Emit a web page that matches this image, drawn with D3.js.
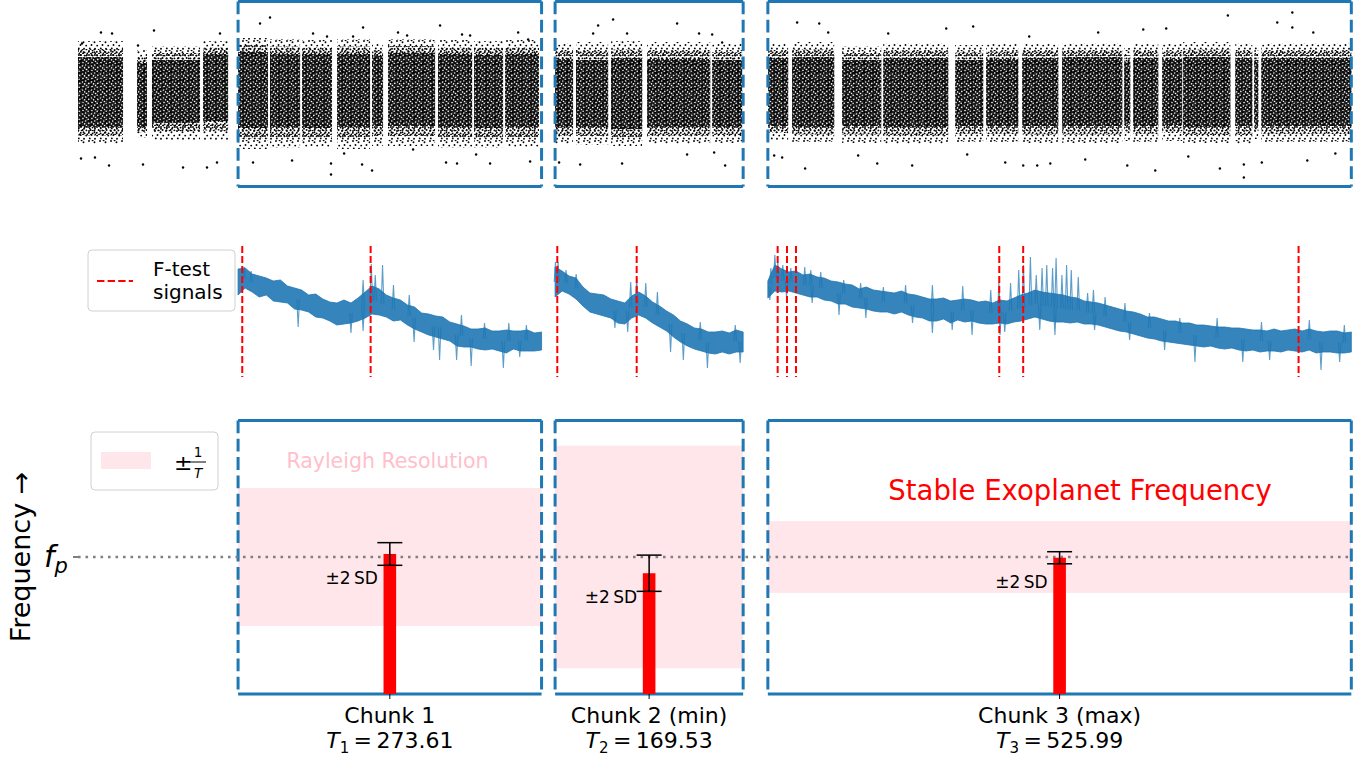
<!DOCTYPE html>
<html>
<head>
<meta charset="utf-8">
<script src="https://cdn.jsdelivr.net/npm/d3@7"></script>
<style>
  body { margin: 0; background: #fff; }
  svg { display: block; }
  text { font-family: "DejaVu Sans", sans-serif; }
</style>
</head>
<body>
<svg id="chart" width="1369" height="757"></svg>
<script>
// ---------------- data ----------------
// Observation chunks (days since first observation) and their baselines T
const chunkNames = ["Chunk 1", "Chunk 2 (min)", "Chunk 3 (max)"];
const chunkSub = ["1", "2", "3"];
const chunkStart = [144.3, 430.1, 621.9];
const chunkLength = [273.61, 169.53, 525.99];
const timeSpan = 1148.5;

// Light curve: contiguous data segments [t0, t1, outerHi, innerHi, innerLo, outerLo] (flux, ppt)
const lcSegments = [
  [0, 40.6, 5.3, 3.7, -3.3, -5.0],
  [53.2, 62.2, 4.4, 3.1, -3.3, -4.4],
  [66.7, 110.0, 4.8, 3.4, -2.9, -4.6],
  [112.7, 135.3, 5.3, 4.0, -2.7, -4.6],
  [144.3, 171.3, 5.6, 4.2, -3.4, -5.5],
  [173.1, 200.2, 5.5, 4.0, -3.3, -5.4],
  [202.0, 229.0, 5.4, 4.0, -3.4, -5.3],
  [233.5, 263.3, 5.5, 4.0, -3.3, -5.5],
  [265.1, 275.0, 5.0, 3.8, -3.2, -5.2],
  [279.5, 321.9, 5.5, 4.1, -3.2, -5.2],
  [324.6, 355.3, 5.4, 4.0, -3.3, -5.4],
  [357.1, 383.2, 5.3, 3.9, -3.4, -5.4],
  [385.0, 415.6, 5.4, 4.0, -3.3, -5.3],
  [430.1, 446.3, 5.1, 3.5, -3.3, -5.0],
  [449.0, 477.9, 5.2, 3.4, -3.3, -5.1],
  [480.6, 508.6, 5.3, 3.6, -3.5, -5.2],
  [513.1, 569.9, 5.2, 3.5, -3.3, -5.0],
  [571.7, 598.7, 5.0, 3.4, -3.3, -4.9],
  [622.2, 640.2, 5.0, 3.6, -3.2, -4.6],
  [643.8, 681.7, 5.2, 3.7, -3.3, -4.8],
  [688.9, 724.1, 4.8, 3.4, -3.2, -4.9],
  [725.9, 784.5, 5.1, 3.6, -3.3, -5.0],
  [790.8, 816.0, 4.9, 3.4, -3.2, -4.8],
  [818.7, 847.6, 5.0, 3.5, -3.2, -4.8],
  [851.2, 883.7, 5.0, 3.6, -3.2, -4.9],
  [887.3, 941.4, 5.1, 3.7, -3.2, -4.9],
  [943.2, 948.6, 4.6, 3.2, -3.0, -4.7],
  [951.3, 973.8, 5.0, 3.6, -3.2, -4.8],
  [977.4, 995.4, 5.0, 3.5, -3.1, -4.7],
  [996.3, 1038.8, 5.2, 3.7, -3.3, -4.9],
  [1043.3, 1058.6, 5.1, 3.6, -3.2, -5.0],
  [1060.4, 1064.0, 4.8, 3.4, -3.0, -4.5],
  [1066.7, 1147.9, 5.1, 3.6, -3.2, -4.8]
];

// Light curve outliers [t, flux]
const lcOutliers = [
  [20.7, 6.15], [30.7, 6.05], [28.0, -7.15], [2.7, -6.45], [15.3, -6.35], [68.5, 6.35],
  [58.6, -7.05], [94.7, -7.35], [116.3, -7.35], [125.3, -6.85], [128.0, 6.05], [173.1, 7.65],
  [164.1, 7.05], [157.8, -6.85], [193.0, -6.65], [3.6, 5.05], [54.1, 4.85], [211.9, 6.05],
  [224.5, 5.75], [228.1, -8.05], [228.1, -6.95], [257.0, 6.65], [265.1, -7.65], [256.1, -7.05],
  [288.5, 6.15], [296.7, 5.85], [326.4, 6.85], [346.2, 5.95], [353.5, 5.85], [331.8, -6.85],
  [341.7, -6.95], [358.9, -6.05], [371.5, -6.95], [396.8, 6.15], [405.8, 5.45], [407.6, -6.75],
  [248.0, 5.75], [239.9, -5.95], [302.1, -5.55], [482.4, 7.45], [468.9, 6.85], [464.4, 6.05],
  [495.0, 6.05], [452.7, -7.05], [433.7, -6.85], [490.5, -6.95], [540.1, 7.05], [559.9, 6.05],
  [571.7, 5.95], [583.4, -7.15], [549.1, -6.05], [573.5, -5.85], [580.7, 5.15], [648.3, 7.15],
  [668.2, 7.05], [655.5, -7.45], [676.3, 6.15], [703.3, -6.15], [720.5, -6.95], [730.4, 6.05],
  [752.0, -7.15], [782.7, 6.55], [807.0, 6.75], [801.6, -6.05], [835.9, -6.85], [857.5, 5.75],
  [852.1, -7.15], [864.7, -7.15], [876.5, -6.95], [627.6, -6.15], [634.8, -6.35], [1036.6, 7.85],
  [1094.7, 8.15], [1094.7, 6.65], [1081.1, 7.15], [1051.0, -8.35], [1029.4, -7.45], [1051.0, -7.05],
  [945.9, -7.15], [971.1, -7.65], [908.0, -6.55], [919.7, 6.15], [960.3, 6.45], [981.0, 6.55],
  [1113.6, 6.15], [1133.5, -5.95], [1108.2, -6.65], [1000.9, -6.25], [1067.2, -6.85]
];

// Periodograms: log power envelope [lo, hi] on an even grid over 0 - 0.5 c/d
const pgram1 = [
  [8.2,10.8],[8.9,10.9],[8.5,10.3],[8.0,10.1],[8.2,9.9],[7.6,9.6],[7.5,9.7],[7.4,9.1],[6.8,8.9],[6.7,8.7],
  [6.5,8.2],[6.0,8.3],[5.9,7.8],[5.6,7.5],[5.2,7.4],[5.3,7.7],[5.4,7.4],[5.6,7.9],[5.9,8.5],[6.3,9.1],
  [6.2,8.8],[6.0,8.2],[5.6,7.9],[5.7,7.7],[5.2,7.2],[4.8,7.0],[4.5,6.4],[4.2,6.3],[4.0,6.1],[3.8,6.0],
  [3.6,5.5],[3.1,5.3],[3.0,5.1],[3.0,4.8],[2.8,4.8],[2.7,4.9],[2.8,4.6],[2.6,4.6],[2.4,4.7],[2.8,4.6],
  [2.6,4.6],[2.6,4.7],[2.6,4.4],[2.7,4.5]
];
const pgram2 = [
  [8.0,11.0],[8.6,10.6],[8.3,10.1],[7.8,9.9],[7.1,9.0],[6.5,8.4],[6.3,8.3],[6.1,8.2],[5.9,7.8],[5.4,7.6],
  [5.3,7.4],[5.9,8.1],[6.2,8.5],[5.9,8.1],[5.4,7.5],[5.0,7.1],[4.6,6.6],[4.0,6.2],[3.5,5.6],[3.1,5.3],
  [2.8,4.9],[2.6,4.8],[2.4,4.5],[2.3,4.5],[2.5,4.6],[2.3,4.4],[2.5,4.7],[2.5,4.5]
];
const pgram3 = [
  [7.9,9.6],[8.6,11.2],[8.5,10.8],[8.6,10.5],[8.4,10.6],[8.2,10.2],[8.0,10.3],[8.0,10.0],[7.7,9.9],[7.6,9.6],
  [7.3,9.5],[7.3,9.3],[7.0,9.2],[6.9,8.8],[6.8,9.0],[6.6,8.7],[6.5,8.6],[6.5,8.5],[6.3,8.4],[6.5,8.6],
  [6.2,8.3],[6.0,8.2],[5.9,8.0],[5.6,7.8],[5.6,7.8],[5.8,7.9],[5.4,7.6],[5.7,7.7],[5.5,7.8],[5.6,7.7],
  [5.4,7.5],[5.3,7.6],[5.3,7.4],[5.4,7.7],[5.3,7.6],[5.5,7.9],[5.6,8.2],[5.8,8.4],[6.0,8.7],[5.8,8.5],
  [5.6,8.4],[5.5,8.3],[5.5,8.2],[5.4,8.0],[5.5,7.9],[5.3,7.6],[5.3,7.5],[5.2,7.4],[5.0,7.2],[4.8,7.0],
  [4.6,6.8],[4.5,6.6],[4.3,6.5],[4.1,6.3],[3.9,6.0],[3.8,6.0],[3.6,5.8],[3.5,5.6],[3.4,5.6],[3.3,5.4],
  [3.2,5.4],[3.1,5.2],[3.0,5.2],[3.1,5.1],[2.9,5.0],[2.8,5.0],[2.9,4.9],[2.7,4.9],[2.6,4.8],[2.7,4.7],
  [2.5,4.7],[2.6,4.6],[2.6,4.8],[2.5,4.6],[2.7,4.7],[2.6,4.8],[2.5,4.6],[2.7,4.8],[2.4,4.6],[2.5,4.5],
  [2.5,4.6],[2.4,4.6],[2.4,4.4],[2.5,4.5]
];

// Isolated periodogram excursions [frequency (c/d), log power]
const spikes1 = [
  [0.0099,11.0],[0.0215,10.6],[0.099,5.0],[0.186,4.4],[0.206,4.6],[0.206,9.7],[0.2195,11.3],[0.226,10.2],
  [0.238,11.2],[0.256,9.2],[0.282,8.2],[0.290,3.5],[0.322,2.7],[0.332,1.7],[0.360,1.7],[0.368,6.2],
  [0.384,1.1],[0.406,5.4],[0.437,0.9],[0.446,5.4],[0.475,5.2],[0.464,2.0]
];
const spikes2 = [
  [0.001,11.5],[0.008,11.5],[0.029,10.7],[0.056,10.3],[0.201,9.5],[0.217,9.9],[0.241,9.4],[0.193,4.5],
  [0.159,4.9],[0.307,2.5],[0.341,1.7],[0.405,0.9],[0.492,1.4],[0.386,5.5],[0.479,5.2],[0.272,8.5]
];
const spikes3 = [
  [0.0026,10.9],[0.006,12.2],[0.0085,11.5],[0.0128,11.2],[0.0197,10.9],[0.0316,11.0],[0.0368,10.7],
  [0.0453,10.5],[0.065,9.7],[0.0795,9.4],[0.099,9.0],[0.118,9.2],[0.141,9.2],[0.167,9.1],[0.191,8.7],
  [0.198,9.5],[0.208,9.4],[0.215,10.7],[0.219,11.2],[0.225,12.0],[0.230,10.2],[0.235,10.9],[0.239,11.2],
  [0.244,10.9],[0.247,11.9],[0.252,10.2],[0.256,11.2],[0.260,10.7],[0.266,10.0],[0.274,8.4],[0.279,8.7],
  [0.289,8.0],[0.306,7.4],[0.327,6.4],[0.353,5.9],[0.385,5.9],[0.423,5.5],[0.464,5.7],[0.494,5.2],
  [0.0017,7.7],[0.016,8.0],[0.038,7.4],[0.061,6.2],[0.084,5.9],[0.124,5.4],[0.141,4.4],[0.175,4.2],
  [0.158,4.7],[0.199,4.2],[0.203,4.5],[0.233,4.7],[0.246,4.2],[0.280,4.7],[0.310,3.7],[0.366,1.5],
  [0.340,2.7],[0.407,1.5],[0.430,1.7],[0.474,0.7],[0.490,1.5]
];

// F-test detections (c/d)
const ftest1 = [0.0069, 0.2184];
const ftest2 = [0.0058, 0.2169];
const ftest3 = [0.0084, 0.0164, 0.0241, 0.1983, 0.2188, 0.4548];

// Planet frequency and per-chunk estimates (c/d)
const fP = 0.218;
const fEst = [0.21816, 0.21714, 0.21796];
const f2SD = [0.00060, 0.00096, 0.00032];

// ---------------- drawing ----------------
const svg = d3.select("#chart");
const BLUE = "#1f77b4";

const x = d3.scaleLinear().domain([0, timeSpan]).range([78, 1352]);
const yLC = d3.scaleLinear().domain([-9.3, 9.3]).range([187, 1]);
const yPow = d3.scaleLinear().domain([0, 13.1]).range([377, 246]);
const yF = d3.scaleLinear().domain([fP - 0.00726, fP + 0.00726]).range([694, 420]);

// dot textures for the dense light-curve cloud (light, medium, heavy)
const defs = svg.append("defs");
function dotPattern(id, w, h, pts, r, bg) {
  const p = defs.append("pattern").attr("id", id)
    .attr("patternUnits", "userSpaceOnUse").attr("width", w).attr("height", h);
  if (bg) p.append("rect").attr("width", w).attr("height", h).attr("fill", "#000");
  pts.forEach(q => p.append("circle").attr("cx", q[0]).attr("cy", q[1]).attr("r", r)
    .attr("fill", bg ? "#fff" : "#000"));
}
dotPattern("sparse", 11, 10, [[1,1],[6.5,2.2],[3.5,5],[9.2,5.6],[1.8,8.4],[7,8.8],[4.6,0.3]], 0.95, false);
dotPattern("medium", 8, 9, [[1,1],[4.6,1.6],[2.6,4],[6.4,4.4],[0.8,6.8],[4.6,7.4],[7.4,8.4],[3,8.6],[6.9,1]], 0.95, false);
dotPattern("dense", 9, 8, [[1.5,2],[5.5,5.5],[4.7,1],[2,6.5],[7.8,3.4],[7.2,7.2],[3.6,3.9]], 0.8, true);

function chunkBox(g, i, y0, y1) {
  const x0 = x(chunkStart[i]), x1 = x(chunkStart[i] + chunkLength[i]);
  const box = g.append("g").attr("stroke", BLUE).attr("stroke-width", 3).attr("fill", "none");
  box.append("line").attr("x1", x0).attr("x2", x1).attr("y1", y0).attr("y2", y0);
  box.append("line").attr("x1", x0).attr("x2", x1).attr("y1", y1).attr("y2", y1);
  [x0, x1].forEach(xx => box.append("line").attr("x1", xx).attr("x2", xx)
    .attr("y1", y0).attr("y2", y1).attr("stroke-dasharray", "12.8 5.5"));
}

// ---- top: light curve ----
const gTop = svg.append("g");
function band(cls, top, bot, fill, op) {
  gTop.selectAll("rect." + cls).data(lcSegments).join("rect").attr("class", cls)
    .attr("x", d => x(d[0])).attr("width", d => x(d[1]) - x(d[0]))
    .attr("y", d => yLC(top(d))).attr("height", d => yLC(bot(d)) - yLC(top(d)))
    .attr("fill", fill).attr("opacity", op);
}
band("outer", d => d[2], d => d[5], "url(#sparse)", 1);
band("mid", d => (d[2] + d[3]) / 2, d => (d[4] + d[5]) / 2, "url(#medium)", 1);
band("inner", d => d[3], d => d[4], "url(#dense)", 0.86);
gTop.selectAll("circle").data(lcOutliers).join("circle")
  .attr("cx", d => x(d[0])).attr("cy", d => yLC(d[1])).attr("r", 1.2).attr("fill", "#000");
[0, 1, 2].forEach(i => chunkBox(gTop, i, 1.5, 186.5));

// ---- middle: periodograms ----
const gMid = svg.append("g");
const pgrams = [pgram1, pgram2, pgram3];
const spikes = [spikes1, spikes2, spikes3];
const ftests = [ftest1, ftest2, ftest3];
pgrams.forEach((pg, k) => {
  const xf = d3.scaleLinear().domain([0, 0.5])
    .range([x(chunkStart[k]), x(chunkStart[k] + chunkLength[k])]);
  const step = 0.5 / (pg.length - 1);
  const area = d3.area()
    .x((d, i) => xf(i * step)).y0(d => yPow(d[0])).y1(d => yPow(d[1]));
  gMid.append("path").datum(pg).attr("d", area).attr("fill", BLUE).attr("fill-opacity", 0.9)
    .attr("stroke", BLUE).attr("stroke-width", 0.8);
  const mid = f => {
    const p = Math.min(f / step, pg.length - 1.0001), i0 = Math.floor(p), t = p - i0;
    const a = (pg[i0][0] + pg[i0][1]) / 2, b = (pg[i0 + 1][0] + pg[i0 + 1][1]) / 2;
    return a + (b - a) * t;
  };
  spikes[k].forEach(s => {
    const xs = xf(s[0]), ym = yPow(mid(s[0]));
    gMid.append("path")
      .attr("d", d3.line()([[xs - 1.3, ym], [xs, yPow(s[1])], [xs + 1.3, ym]]))
      .attr("fill", "none").attr("stroke", BLUE).attr("stroke-width", 1.1)
      .attr("stroke-opacity", 0.72);
  });
  ftests[k].forEach(f => {
    gMid.append("line").attr("x1", xf(f)).attr("x2", xf(f)).attr("y1", 246).attr("y2", 377)
      .attr("stroke", "red").attr("stroke-width", 2).attr("stroke-dasharray", "7 3");
  });
});
// legend
const lg1 = svg.append("g");
lg1.append("rect").attr("x", 88).attr("y", 250).attr("width", 147).attr("height", 61)
  .attr("rx", 4).attr("fill", "#fff").attr("fill-opacity", 0.8).attr("stroke", "#d0d0d0");
lg1.append("line").attr("x1", 97).attr("x2", 133).attr("y1", 281).attr("y2", 281)
  .attr("stroke", "red").attr("stroke-width", 2).attr("stroke-dasharray", "7.4 3.2");
lg1.append("text").attr("x", 153).attr("y", 276).attr("font-size", 20).text("F-test");
lg1.append("text").attr("x", 153).attr("y", 299).attr("font-size", 20).text("signals");

// ---- bottom: frequency estimates ----
const gBot = svg.append("g");
const centers = chunkStart.map((s, i) => s + chunkLength[i] / 2);
chunkLength.forEach((T, i) => {
  gBot.append("rect").attr("x", x(chunkStart[i])).attr("width", x(chunkStart[i] + T) - x(chunkStart[i]))
    .attr("y", yF(fP + 1 / T)).attr("height", yF(fP - 1 / T) - yF(fP + 1 / T))
    .attr("fill", "pink").attr("fill-opacity", 0.4);
});
[0, 1, 2].forEach(i => chunkBox(gBot, i, 420.5, 694));
gBot.append("line").attr("x1", 78).attr("x2", 1352).attr("y1", yF(fP)).attr("y2", yF(fP))
  .attr("stroke", "#808080").attr("stroke-width", 2.6).attr("stroke-dasharray", "2.6 4.9");
fEst.forEach((f, i) => {
  const cx = x(centers[i]);
  gBot.append("rect").attr("x", cx - 6.3).attr("width", 12.6)
    .attr("y", yF(f)).attr("height", 694 - yF(f)).attr("fill", "#ff0000");
  const eb = gBot.append("g").attr("stroke", "#000").attr("stroke-width", 1.5);
  eb.append("line").attr("x1", cx).attr("x2", cx).attr("y1", yF(f + f2SD[i])).attr("y2", yF(f - f2SD[i]));
  [f + f2SD[i], f - f2SD[i]].forEach(v => eb.append("line")
    .attr("x1", cx - 12.5).attr("x2", cx + 12.5).attr("y1", yF(v)).attr("y2", yF(v)));
  gBot.append("text").attr("x", cx - 12).attr("y", yF(f) + 30).attr("text-anchor", "end")
    .attr("font-size", 17).text("\u00b12\u2009SD");
  // x tick and label
  gBot.append("line").attr("x1", cx).attr("x2", cx).attr("y1", 694).attr("y2", 699)
    .attr("stroke", "#000").attr("stroke-width", 1);
  gBot.append("text").attr("x", cx).attr("y", 723).attr("text-anchor", "middle")
    .attr("font-size", 22).text(chunkNames[i]);
  const t = gBot.append("text").attr("x", cx).attr("y", 748).attr("text-anchor", "middle")
    .attr("font-size", 22);
  t.append("tspan").attr("font-style", "italic").text("T");
  t.append("tspan").attr("font-size", 15).attr("dy", 5).text(chunkSub[i]);
  t.append("tspan").attr("dy", -5).text("\u2009=\u2009" + chunkLength[i].toFixed(2));
});
// y tick f_p
gBot.append("line").attr("x1", 73).attr("x2", 78).attr("y1", yF(fP)).attr("y2", yF(fP))
  .attr("stroke", "#000").attr("stroke-width", 1);
const fpl = gBot.append("text").attr("x", 44).attr("y", yF(fP) + 10).attr("font-size", 30);
fpl.append("tspan").attr("font-style", "italic").text("f");
fpl.append("tspan").attr("font-style", "italic").attr("font-size", 21).attr("dy", 6).text("p");
svg.append("text").attr("transform", `translate(30,${yF(fP)}) rotate(-90)`)
  .attr("text-anchor", "middle").attr("font-size", 27).text("Frequency \u2192");

gBot.append("text").attr("x", 387.5).attr("y", 468).attr("text-anchor", "middle")
  .attr("font-size", 20.5).attr("fill", "pink").text("Rayleigh Resolution");
gBot.append("text").attr("x", 1080).attr("y", 500).attr("text-anchor", "middle")
  .attr("font-size", 27.5).attr("fill", "#ff0000").text("Stable Exoplanet Frequency");

// legend for the resolution band
const lg2 = svg.append("g");
lg2.append("rect").attr("x", 91).attr("y", 432).attr("width", 127).attr("height", 58)
  .attr("rx", 4).attr("fill", "#fff").attr("fill-opacity", 0.8).attr("stroke", "#d0d0d0");
lg2.append("rect").attr("x", 101).attr("y", 452).attr("width", 50).attr("height", 17)
  .attr("fill", "pink").attr("fill-opacity", 0.4);
lg2.append("text").attr("x", 174).attr("y", 470).attr("font-size", 22).text("\u00b1");
lg2.append("text").attr("x", 198).attr("y", 457).attr("text-anchor", "middle")
  .attr("font-size", 13.5).text("1");
lg2.append("line").attr("x1", 189).attr("x2", 206).attr("y1", 462).attr("y2", 462)
  .attr("stroke", "#000").attr("stroke-width", 1);
lg2.append("text").attr("x", 198).attr("y", 478).attr("text-anchor", "middle")
  .attr("font-size", 13.5).attr("font-style", "italic").text("T");
</script>
</body>
</html>
